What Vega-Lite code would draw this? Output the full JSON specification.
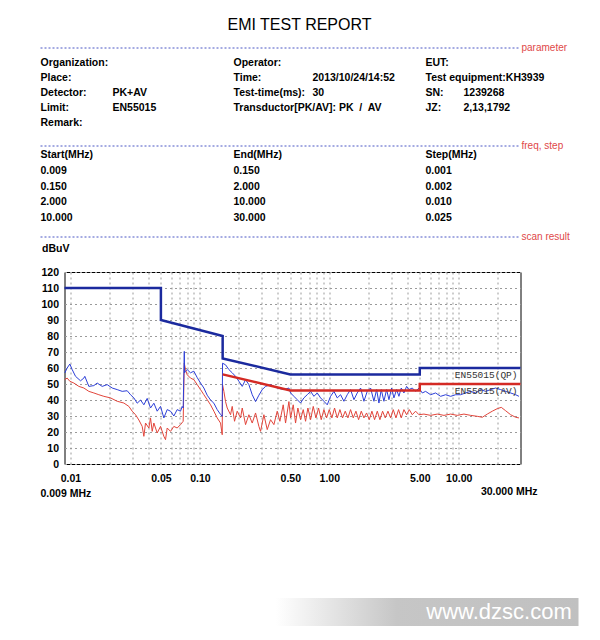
{
  "$schema": "https://vega.github.io/schema/vega-lite/v6.json",
  "padding": {"left": 39.5, "top": 0, "right": 0, "bottom": 0},
  "bounds": "flush",
  "spacing": 0,
  "config": {"view": {"stroke": null}, "font": "Liberation Sans"},
  "datasets": {
    "header": [
      {"kind": "title", "line": 0, "col": 6, "t": "EMI TEST REPORT"},
      {"kind": "rule", "line": 1, "col": 0, "col2": 8},
      {"kind": "sec", "line": 1, "col": 7, "t": "parameter"},
      {"kind": "text", "line": 2, "col": 0, "t": "Organization:"},
      {"kind": "text", "line": 2, "col": 2, "t": "Operator:"},
      {"kind": "text", "line": 2, "col": 4, "t": "EUT:"},
      {"kind": "text", "line": 3, "col": 0, "t": "Place:"},
      {"kind": "text", "line": 3, "col": 2, "t": "Time:"},
      {"kind": "text", "line": 3, "col": 3, "t": "2013/10/24/14:52"},
      {"kind": "text", "line": 3, "col": 4, "t": "Test equipment:KH3939"},
      {"kind": "text", "line": 4, "col": 0, "t": "Detector:"},
      {"kind": "text", "line": 4, "col": 1, "t": "PK+AV"},
      {"kind": "text", "line": 4, "col": 2, "t": "Test-time(ms):"},
      {"kind": "text", "line": 4, "col": 3, "t": "30"},
      {"kind": "text", "line": 4, "col": 4, "t": "SN:"},
      {"kind": "text", "line": 4, "col": 5, "t": "1239268"},
      {"kind": "text", "line": 5, "col": 0, "t": "Limit:"},
      {"kind": "text", "line": 5, "col": 1, "t": "EN55015"},
      {"kind": "text", "line": 5, "col": 2, "t": "Transductor[PK/AV]: PK\u00a0 /\u00a0 AV"},
      {"kind": "text", "line": 5, "col": 4, "t": "JZ:"},
      {"kind": "text", "line": 5, "col": 5, "t": "2,13,1792"},
      {"kind": "text", "line": 6, "col": 0, "t": "Remark:"},
      {"kind": "rule", "line": 7, "col": 0, "col2": 8},
      {"kind": "sec", "line": 7, "col": 7, "t": "freq, step"},
      {"kind": "text", "line": 8, "col": 0, "t": "Start(MHz)"},
      {"kind": "text", "line": 8, "col": 2, "t": "End(MHz)"},
      {"kind": "text", "line": 8, "col": 4, "t": "Step(MHz)"},
      {"kind": "text", "line": 9, "col": 0, "t": "0.009"},
      {"kind": "text", "line": 9, "col": 2, "t": "0.150"},
      {"kind": "text", "line": 9, "col": 4, "t": "0.001"},
      {"kind": "text", "line": 10, "col": 0, "t": "0.150"},
      {"kind": "text", "line": 10, "col": 2, "t": "2.000"},
      {"kind": "text", "line": 10, "col": 4, "t": "0.002"},
      {"kind": "text", "line": 11, "col": 0, "t": "2.000"},
      {"kind": "text", "line": 11, "col": 2, "t": "10.000"},
      {"kind": "text", "line": 11, "col": 4, "t": "0.010"},
      {"kind": "text", "line": 12, "col": 0, "t": "10.000"},
      {"kind": "text", "line": 12, "col": 2, "t": "30.000"},
      {"kind": "text", "line": 12, "col": 4, "t": "0.025"},
      {"kind": "rule", "line": 13, "col": 0, "col2": 8},
      {"kind": "sec", "line": 13, "col": 7, "t": "scan result"}
    ],
    "qp": [
      {"f": 0.009, "v": 110}, {"f": 0.05, "v": 110}, {"f": 0.05, "v": 90}, {"f": 0.15, "v": 80},
      {"f": 0.15, "v": 66}, {"f": 0.5, "v": 56}, {"f": 5, "v": 56}, {"f": 5, "v": 60}, {"f": 30, "v": 60}
    ],
    "avlim": [
      {"f": 0.15, "v": 56}, {"f": 0.5, "v": 46}, {"f": 5, "v": 46}, {"f": 5, "v": 50}, {"f": 30, "v": 50}
    ],
    "pk": [
      {"f": 0.00905, "v": 56.9}, {"f": 0.009437, "v": 60}, {"f": 0.009896, "v": 62.5}, {"f": 0.01032, "v": 59},
      {"f": 0.01095, "v": 54.8}, {"f": 0.01197, "v": 52}, {"f": 0.0127, "v": 53.7}, {"f": 0.01292, "v": 54.8},
      {"f": 0.01388, "v": 48.5}, {"f": 0.01517, "v": 49}, {"f": 0.01609, "v": 50.6}, {"f": 0.0176, "v": 48.5},
      {"f": 0.01923, "v": 49.6}, {"f": 0.02102, "v": 47.5}, {"f": 0.02298, "v": 46.5}, {"f": 0.02512, "v": 45.4},
      {"f": 0.02745, "v": 45.8}, {"f": 0.02913, "v": 43.3}, {"f": 0.03091, "v": 41.3}, {"f": 0.0328, "v": 38},
      {"f": 0.0348, "v": 40}, {"f": 0.03693, "v": 37}, {"f": 0.03918, "v": 41}, {"f": 0.04158, "v": 35},
      {"f": 0.04412, "v": 38}, {"f": 0.04681, "v": 33}, {"f": 0.04967, "v": 36}, {"f": 0.0527, "v": 28.8},
      {"f": 0.05592, "v": 34}, {"f": 0.05934, "v": 33}, {"f": 0.06296, "v": 30}, {"f": 0.0668, "v": 34},
      {"f": 0.07088, "v": 33}, {"f": 0.07301, "v": 36}, {"f": 0.07432, "v": 35}, {"f": 0.0758, "v": 70.4},
      {"f": 0.0762, "v": 57}, {"f": 0.07747, "v": 58}, {"f": 0.07981, "v": 59}, {"f": 0.08468, "v": 57},
      {"f": 0.08985, "v": 58}, {"f": 0.09539, "v": 54}, {"f": 0.1012, "v": 50.6}, {"f": 0.1074, "v": 47.5},
      {"f": 0.1139, "v": 43}, {"f": 0.1209, "v": 40}, {"f": 0.1283, "v": 38}, {"f": 0.1361, "v": 34},
      {"f": 0.1444, "v": 31}, {"f": 0.1488, "v": 29.8}, {"f": 0.1497, "v": 63}, {"f": 0.1579, "v": 62},
      {"f": 0.1676, "v": 59}, {"f": 0.1778, "v": 57}, {"f": 0.1887, "v": 54.8}, {"f": 0.2002, "v": 51.7},
      {"f": 0.2125, "v": 48.5}, {"f": 0.2254, "v": 52.7}, {"f": 0.2392, "v": 49.6}, {"f": 0.2538, "v": 43.3},
      {"f": 0.2693, "v": 39}, {"f": 0.2858, "v": 43}, {"f": 0.3033, "v": 46.5}, {"f": 0.3218, "v": 48.5},
      {"f": 0.3517, "v": 49.6}, {"f": 0.396, "v": 47.5}, {"f": 0.4458, "v": 46.5}, {"f": 0.4873, "v": 47.5},
      {"f": 0.5022, "v": 44.4}, {"f": 0.5327, "v": 42.3}, {"f": 0.5652, "v": 40.2}, {"f": 0.5997, "v": 38.1},
      {"f": 0.6363, "v": 41.3}, {"f": 0.6753, "v": 43.3}, {"f": 0.7168, "v": 45.4}, {"f": 0.7605, "v": 42.3},
      {"f": 0.807, "v": 44.4}, {"f": 0.8563, "v": 41.3}, {"f": 0.9087, "v": 39.2}, {"f": 0.9641, "v": 37},
      {"f": 1.023, "v": 42.3}, {"f": 1.086, "v": 45.4}, {"f": 1.152, "v": 41.3}, {"f": 1.222, "v": 43.3},
      {"f": 1.297, "v": 39.2}, {"f": 1.376, "v": 43.3}, {"f": 1.46, "v": 46.5}, {"f": 1.55, "v": 40.2},
      {"f": 1.644, "v": 44.4}, {"f": 1.745, "v": 47.5}, {"f": 1.851, "v": 39.2}, {"f": 1.964, "v": 45.4},
      {"f": 2.084, "v": 47.5}, {"f": 2.212, "v": 39.2}, {"f": 2.32, "v": 46.5}, {"f": 2.418, "v": 38.1},
      {"f": 2.52, "v": 46.5}, {"f": 2.642, "v": 39.2}, {"f": 2.771, "v": 46.5}, {"f": 2.889, "v": 40.2},
      {"f": 3.029, "v": 47.5}, {"f": 3.157, "v": 41.3}, {"f": 3.311, "v": 46.5}, {"f": 3.451, "v": 42.3},
      {"f": 3.597, "v": 47.5}, {"f": 3.772, "v": 44.4}, {"f": 3.956, "v": 48.5}, {"f": 4.124, "v": 46.5},
      {"f": 4.375, "v": 47.5}, {"f": 4.644, "v": 45.4}, {"f": 4.926, "v": 47.5}, {"f": 5.228, "v": 44.4},
      {"f": 5.546, "v": 45.4}, {"f": 6.063, "v": 43.3}, {"f": 6.628, "v": 44.4}, {"f": 7.245, "v": 42.3},
      {"f": 7.919, "v": 43.3}, {"f": 8.658, "v": 42.3}, {"f": 9.46, "v": 43.3}, {"f": 10.34, "v": 43.3},
      {"f": 11.3, "v": 44.4}, {"f": 12.36, "v": 45.4}, {"f": 13.51, "v": 44.4}, {"f": 14.76, "v": 46.5},
      {"f": 16.13, "v": 45.4}, {"f": 17.64, "v": 46.5}, {"f": 19.28, "v": 47.5}, {"f": 21.07, "v": 46.5},
      {"f": 23.03, "v": 45.4}, {"f": 25.17, "v": 44.4}, {"f": 27.51, "v": 43.3}, {"f": 29.19, "v": 42.3}
    ],
    "av": [
      {"f": 0.00905, "v": 52.7}, {"f": 0.009437, "v": 53.7}, {"f": 0.009896, "v": 51.7}, {"f": 0.01063, "v": 50.6},
      {"f": 0.01162, "v": 48.5}, {"f": 0.0127, "v": 47.5}, {"f": 0.01388, "v": 45.4}, {"f": 0.01517, "v": 44.4},
      {"f": 0.01658, "v": 43.3}, {"f": 0.01813, "v": 42.3}, {"f": 0.02041, "v": 41.3}, {"f": 0.02298, "v": 39.2},
      {"f": 0.02588, "v": 38.1}, {"f": 0.02828, "v": 36}, {"f": 0.03001, "v": 33}, {"f": 0.03184, "v": 30.8},
      {"f": 0.03379, "v": 27.5}, {"f": 0.03585, "v": 23.5}, {"f": 0.03693, "v": 17.3}, {"f": 0.03804, "v": 25.6},
      {"f": 0.04036, "v": 22.5}, {"f": 0.04158, "v": 28.8}, {"f": 0.04283, "v": 20.4}, {"f": 0.04412, "v": 25.6},
      {"f": 0.04681, "v": 19.4}, {"f": 0.04967, "v": 23.5}, {"f": 0.0527, "v": 17.3}, {"f": 0.05429, "v": 15.2},
      {"f": 0.05592, "v": 22.5}, {"f": 0.05934, "v": 20.4}, {"f": 0.06296, "v": 23.5}, {"f": 0.0668, "v": 22.5},
      {"f": 0.07088, "v": 24.6}, {"f": 0.07432, "v": 26.7}, {"f": 0.0758, "v": 63}, {"f": 0.07747, "v": 59},
      {"f": 0.07981, "v": 55.8}, {"f": 0.08468, "v": 53.7}, {"f": 0.08985, "v": 52.7}, {"f": 0.09539, "v": 49.6},
      {"f": 0.1012, "v": 46.5}, {"f": 0.1074, "v": 43.3}, {"f": 0.1139, "v": 40.2}, {"f": 0.1209, "v": 37},
      {"f": 0.1283, "v": 33}, {"f": 0.1361, "v": 28.8}, {"f": 0.1444, "v": 25.6}, {"f": 0.1488, "v": 18.3},
      {"f": 0.1497, "v": 49.6}, {"f": 0.1533, "v": 45.4}, {"f": 0.1579, "v": 39}, {"f": 0.1627, "v": 35},
      {"f": 0.1726, "v": 30.8}, {"f": 0.1778, "v": 36}, {"f": 0.1853, "v": 26.7}, {"f": 0.1943, "v": 33},
      {"f": 0.2062, "v": 28.8}, {"f": 0.2125, "v": 35}, {"f": 0.2254, "v": 24.6}, {"f": 0.2392, "v": 30.8},
      {"f": 0.2538, "v": 25.6}, {"f": 0.2693, "v": 31.9}, {"f": 0.2858, "v": 23.5}, {"f": 0.2944, "v": 20.4},
      {"f": 0.3124, "v": 30.8}, {"f": 0.3315, "v": 21.5}, {"f": 0.3517, "v": 27.7}, {"f": 0.3732, "v": 24.6},
      {"f": 0.396, "v": 33}, {"f": 0.4152, "v": 26.7}, {"f": 0.4405, "v": 37}, {"f": 0.4592, "v": 25.6},
      {"f": 0.4873, "v": 39}, {"f": 0.5022, "v": 28.8}, {"f": 0.5264, "v": 37}, {"f": 0.5487, "v": 25.6},
      {"f": 0.5719, "v": 35}, {"f": 0.5997, "v": 27.7}, {"f": 0.6288, "v": 34}, {"f": 0.6556, "v": 26.7},
      {"f": 0.6834, "v": 35}, {"f": 0.7168, "v": 27.7}, {"f": 0.7515, "v": 36}, {"f": 0.788, "v": 28.8},
      {"f": 0.8262, "v": 35}, {"f": 0.8663, "v": 27.7}, {"f": 0.9087, "v": 34}, {"f": 0.9528, "v": 28.8},
      {"f": 0.999, "v": 34}, {"f": 1.047, "v": 28.8}, {"f": 1.098, "v": 35}, {"f": 1.152, "v": 28.8},
      {"f": 1.208, "v": 34}, {"f": 1.266, "v": 28.8}, {"f": 1.328, "v": 33}, {"f": 1.393, "v": 28.8},
      {"f": 1.46, "v": 34}, {"f": 1.531, "v": 28.8}, {"f": 1.606, "v": 33}, {"f": 1.684, "v": 27.7},
      {"f": 1.766, "v": 33}, {"f": 1.851, "v": 28.8}, {"f": 1.941, "v": 31.9}, {"f": 2.035, "v": 27.7},
      {"f": 2.134, "v": 33}, {"f": 2.238, "v": 27.7}, {"f": 2.348, "v": 33}, {"f": 2.461, "v": 27.7},
      {"f": 2.58, "v": 33}, {"f": 2.706, "v": 28.8}, {"f": 2.838, "v": 33}, {"f": 2.976, "v": 28.8},
      {"f": 3.12, "v": 34}, {"f": 3.272, "v": 28.8}, {"f": 3.43, "v": 34}, {"f": 3.597, "v": 28.8},
      {"f": 3.772, "v": 34}, {"f": 3.956, "v": 30.8}, {"f": 4.148, "v": 34}, {"f": 4.375, "v": 30.8},
      {"f": 4.644, "v": 33}, {"f": 4.926, "v": 30.8}, {"f": 5.384, "v": 31.2}, {"f": 6.063, "v": 30.4},
      {"f": 6.828, "v": 31.2}, {"f": 7.688, "v": 30.4}, {"f": 8.658, "v": 31.2}, {"f": 9.745, "v": 30.4},
      {"f": 10.97, "v": 31.2}, {"f": 12.36, "v": 30.4}, {"f": 13.91, "v": 29.8}, {"f": 15.21, "v": 29.2},
      {"f": 16.62, "v": 31.2}, {"f": 18.16, "v": 33}, {"f": 19.86, "v": 34.6}, {"f": 21.32, "v": 35.4},
      {"f": 23.03, "v": 33.3}, {"f": 25.17, "v": 30.8}, {"f": 27.51, "v": 29.2}, {"f": 29.19, "v": 28.8}
    ],
    "limlabels": [
      {"f": 30, "v": 60, "t": "EN55015(QP)"},
      {"f": 30, "v": 50, "t": "EN55015(AV)"}
    ],
    "leftend": [{"f": 0.009, "v": 0, "t": "0.009 MHz"}],
    "rightend": [{"f": 30, "v": 0, "t": "30.000 MHz"}]
  },
  "vconcat": [
    {
      "width": 456,
      "height": 272,
      "view": {"fill": "white", "stroke": null},
      "data": {"name": "header"},
      "encoding": {
        "x": {"field": "col", "type": "quantitative", "axis": null,
              "scale": {"type": "linear", "nice": false, "zero": false,
                        "domain": [0, 1, 2, 3, 4, 5, 6, 7, 8],
                        "range": [-24, 48, 169, 248, 361, 399, 235, 457, 454]}},
        "y": {"field": "line", "type": "quantitative", "axis": null,
              "scale": {"type": "linear", "nice": false, "zero": false,
                        "domain": [0, 1, 2, 3, 4, 5, 6, 7, 8, 9, 10, 11, 12, 13],
                        "range": [25, 48, 63, 78, 93, 108, 123, 146, 155, 171, 187, 202, 218, 237]}}
      },
      "layer": [
        {"transform": [{"filter": "datum.kind === 'rule'"}],
         "mark": {"type": "rule", "color": "#4a56c4", "strokeWidth": 1, "strokeDash": [2, 2]},
         "encoding": {"x2": {"field": "col2"}}},
        {"transform": [{"filter": "datum.kind === 'sec'"}],
         "mark": {"type": "text", "align": "left", "baseline": "middle", "font": "Liberation Sans", "fontSize": 10, "color": "#e04848"},
         "encoding": {"text": {"field": "t"}}},
        {"transform": [{"filter": "datum.kind === 'title'"}],
         "mark": {"type": "text", "align": "center", "baseline": "middle", "font": "Liberation Sans", "fontSize": 16, "color": "#000"},
         "encoding": {"text": {"field": "t"}}},
        {"transform": [{"filter": "datum.kind === 'text'"}],
         "mark": {"type": "text", "align": "left", "baseline": "middle", "font": "Liberation Sans", "fontWeight": "bold", "fontSize": 10.5, "color": "#000"},
         "encoding": {"text": {"field": "t"}}}
      ]
    },
    {
      "width": 456,
      "height": 192,
      "view": {"stroke": "#000", "strokeWidth": 1},
      "encoding": {
        "x": {"field": "f", "type": "quantitative",
              "scale": {"type": "log", "domain": [0.009, 30], "nice": false},
              "axis": {"title": null, "values": [0.01, 0.02, 0.03, 0.04, 0.05, 0.06, 0.07, 0.08, 0.09, 0.1, 0.2, 0.3, 0.4, 0.5, 0.6, 0.7, 0.8, 0.9, 1, 2, 3, 4, 5, 6, 7, 8, 9, 10, 20],
                       "labelExpr": "indexof([0.01, 0.05, 0.1, 0.5, 1, 5, 10], datum.value) >= 0 ? format(datum.value, '.2f') : ''",
                       "labelOverlap": false, "labelFlush": false, "ticks": false, "domain": false,
                       "grid": true, "gridDash": [2, 3], "gridColor": "#9a9a9a", "gridWidth": 1,
                       "labelFont": "Liberation Sans", "labelFontWeight": "bold", "labelFontSize": 10.5, "labelColor": "#000",
                       "labelPadding": 9, "labelDx": 3}},
        "y": {"field": "v", "type": "quantitative",
              "scale": {"domain": [0, 120], "nice": false},
              "axis": {"title": "dBuV", "values": [0, 10, 20, 30, 40, 50, 60, 70, 80, 90, 100, 110, 120],
                       "ticks": false, "domain": false, "grid": true, "gridDash": [2, 3], "gridColor": "#9a9a9a",
                       "labelFont": "Liberation Sans", "labelFontWeight": "bold", "labelFontSize": 10.5, "labelColor": "#000",
                       "labelPadding": 6,
                       "titleAngle": 0, "titleAlign": "left", "titleBaseline": "middle", "titleX": -23, "titleY": -24,
                       "titleFont": "Liberation Sans", "titleFontWeight": "bold", "titleFontSize": 10.5, "titleColor": "#000"}}
      },
      "layer": [
        {"data": {"name": "av"}, "mark": {"type": "line", "color": "#e2453b", "strokeWidth": 1}, "encoding": {"order": {"value": null}}},
        {"data": {"name": "pk"}, "mark": {"type": "line", "color": "#2d3fd8", "strokeWidth": 1}, "encoding": {"order": {"value": null}}},
        {"data": {"name": "qp"}, "mark": {"type": "line", "color": "#1b2a9e", "strokeWidth": 2.5}, "encoding": {"order": {"value": null}}},
        {"data": {"name": "avlim"}, "mark": {"type": "line", "color": "#d42a24", "strokeWidth": 2.5}, "encoding": {"order": {"value": null}}},
        {"data": {"name": "limlabels"}, "mark": {"type": "text", "align": "right", "baseline": "top", "dx": -3, "dy": 2, "font": "Liberation Mono", "fontSize": 9.5, "color": "#333"}, "encoding": {"text": {"field": "t"}}},
        {"data": {"name": "leftend"}, "mark": {"type": "text", "align": "left", "baseline": "middle", "dx": -24, "dy": 30, "font": "Liberation Sans", "fontWeight": "bold", "fontSize": 10.5, "color": "#000"}, "encoding": {"text": {"field": "t"}}},
        {"data": {"name": "rightend"}, "mark": {"type": "text", "align": "right", "baseline": "middle", "dx": 17, "dy": 28, "font": "Liberation Sans", "fontWeight": "bold", "fontSize": 10.5, "color": "#000"}, "encoding": {"text": {"field": "t"}}}
      ]
    },
    {
      "width": 456,
      "height": 134,
      "data": {"values": []},
      "mark": "point"
    },
    {
      "bounds": "flush",
      "spacing": 0,
      "hconcat": [
        {"width": 211, "height": 28, "data": {"values": []}, "mark": "point"},
        {
          "width": 303,
          "height": 28,
          "layer": [
            {"data": {"values": [{"k": 1}]},
             "mark": {"type": "rect", "color": {"gradient": "linear", "x1": 0, "x2": 1, "y1": 0, "y2": 0,
                       "stops": [{"offset": 0, "color": "#ffffff"}, {"offset": 0.4, "color": "#c6c6c6"}, {"offset": 1, "color": "#c0c0c0"}]}}},
            {"data": {"values": [{"t": "www.dzsc.com"}]},
             "mark": {"type": "text", "align": "center", "baseline": "middle", "dx": 72, "font": "Liberation Sans", "fontSize": 22, "color": "#ffffff"},
             "encoding": {"text": {"field": "t"}}}
          ]
        }
      ]
    }
  ]
}
